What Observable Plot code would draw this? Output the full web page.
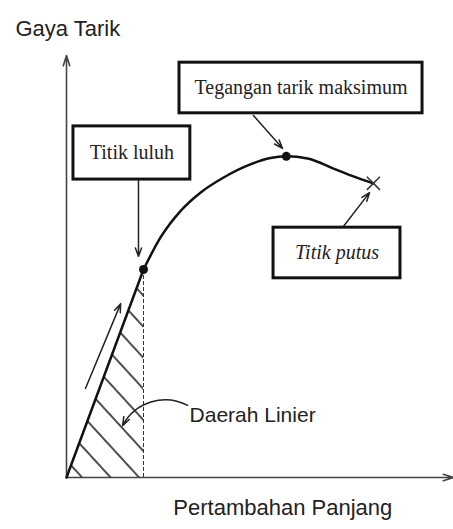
<!DOCTYPE html>
<html><head><meta charset="utf-8">
<script src="https://cdn.jsdelivr.net/npm/d3@7"></script>
<script src="https://cdn.jsdelivr.net/npm/@observablehq/plot@0.6"></script>
<style>body{margin:0;background:#fff} svg{display:block}</style>
</head><body><div id="chart"></div>
<script>
// Stress–strain style curve, arbitrary units (elongation x, force y), 0–100
const linearPart = [{x: 0, y: 0}, {x: 19.9, y: 49.3}];
const plasticPart = [
  {x: 19.9, y: 49.3}, {x: 24.3, y: 56.9}, {x: 29.5, y: 63.2}, {x: 34.6, y: 67.5},
  {x: 40.6, y: 71.1}, {x: 47.5, y: 74.2}, {x: 52.7, y: 75.7}, {x: 56.8, y: 76.1},
  {x: 62.3, y: 75.6}, {x: 69.0, y: 73.2}, {x: 73.4, y: 71.6}, {x: 79.3, y: 69.7}
];
const keyPoints = [
  {name: "yield", x: 19.9, y: 49.3},
  {name: "max", x: 56.8, y: 76.1}
];
const breakPoint = [{name: "break", x: 79.3, y: 69.7}];

// Annotation boxes (labels) in the same units
const boxLabels = ["Tegangan tarik maksimum", "Titik luluh", "Titik putus"];
const boxX1 = [29.2, 1.8, 53.5];
const boxX2 = [92.0, 32.0, 86.3];
const boxY1 = [86.3, 70.6, 47.2];
const boxY2 = [98.3, 83.2, 59.2];
const boxItalic = [false, false, true];

// Pointer arrows
const pointerArrows = [
  {x1: 48.3, y1: 85.8, x2: 55.8, y2: 78.0},   // Tegangan -> max
  {x1: 18.6, y1: 70.6, x2: 18.6, y2: 52.4},   // Titik luluh -> yield
  {x1: 71.3, y1: 59.2, x2: 78.3, y2: 67.5},   // Titik putus -> break
  {x1: 4.9, y1: 21.1, x2: 14.0, y2: 41.2}     // loading direction
];
const curvedArrow = [{x1: 31.3, y1: 17.1, x2: 14.5, y2: 12.3}];

// Axis lines
const axisArrows = [
  {x1: 0, y1: 0, x2: 0, y2: 100},
  {x1: 0, y1: 0, x2: 100, y2: 0}
];
const yTitle = [{text: "Gaya Tarik", x: -13.2, y: 106.4}];
const xTitle = [{text: "Pertambahan Panjang", x: 55.9, y: -7.3}];
const regionLabel = [{text: "Daerah Linier", x: 31.8, y: 14.7}];

const boxes = boxLabels.map((label, i) => ({
  label, x1: boxX1[i], x2: boxX2[i], y1: boxY1[i], y2: boxY2[i],
  cx: (boxX1[i] + boxX2[i]) / 2, cy: (boxY1[i] + boxY2[i]) / 2, italic: boxItalic[i]
}));

const svg = Plot.plot({
  width: 453, height: 529,
  marginLeft: 66, marginRight: 0, marginTop: 55, marginBottom: 52,
  x: {domain: [0, 100], axis: null},
  y: {domain: [0, 100], axis: null},
  style: {fontFamily: "'Liberation Sans', Arial, sans-serif", background: "white", color: "#111"},
  marks: [
    Plot.areaY(linearPart, {x: "x", y: "y", fill: "url(#hatch)"}),
    Plot.ruleX([keyPoints[0]], {x: "x", y1: 0, y2: "y", stroke: "#333", strokeWidth: 1, strokeDasharray: "4,2"}),
    Plot.arrow(axisArrows, {x1: "x1", y1: "y1", x2: "x2", y2: "y2", stroke: "#444", strokeWidth: 1.6, headLength: 10, headAngle: 35}),
    Plot.line(linearPart, {x: "x", y: "y", stroke: "#111", strokeWidth: 2.5}),
    Plot.line(plasticPart, {x: "x", y: "y", stroke: "#111", strokeWidth: 2.5, curve: "monotone-x"}),
    Plot.arrow(pointerArrows, {x1: "x1", y1: "y1", x2: "x2", y2: "y2", stroke: "#222", strokeWidth: 1.5, headLength: 9, headAngle: 40}),
    Plot.arrow(curvedArrow, {x1: "x1", y1: "y1", x2: "x2", y2: "y2", stroke: "#222", strokeWidth: 1.5, headLength: 9, headAngle: 40, bend: -45}),
    Plot.dot(keyPoints, {x: "x", y: "y", r: 4.5, fill: "#111"}),
    Plot.dot(breakPoint, {x: "x", y: "y", symbol: "times", r: 6, stroke: "#333", strokeWidth: 1.5}),
    Plot.rect(boxes, {x1: "x1", x2: "x2", y1: "y1", y2: "y2", fill: "white", stroke: "#111", strokeWidth: 3}),
    Plot.text(boxes.filter(d => !d.italic), {x: "cx", y: "cy", text: "label", fontSize: 20, fontFamily: "'Liberation Serif', 'Times New Roman', serif", fill: "#222"}),
    Plot.text(boxes.filter(d => d.italic), {x: "cx", y: "cy", text: "label", fontSize: 20, fontStyle: "italic", fontFamily: "'Liberation Serif', 'Times New Roman', serif", fill: "#222"}),
    Plot.text(yTitle, {x: "x", y: "y", text: "text", textAnchor: "start", fontSize: 22, fill: "#222"}),
    Plot.text(xTitle, {x: "x", y: "y", text: "text", fontSize: 22, fill: "#222"}),
    Plot.text(regionLabel, {x: "x", y: "y", text: "text", textAnchor: "start", fontSize: 21, fill: "#222"})
  ]
});

const defs = d3.select(svg).insert("defs", ":first-child");
const pat = defs.append("pattern")
  .attr("id", "hatch")
  .attr("patternUnits", "userSpaceOnUse")
  .attr("width", 21).attr("height", 21)
  .attr("patternTransform", "rotate(47.5)");
pat.append("line")
  .attr("x1", 0).attr("y1", 10).attr("x2", 21).attr("y2", 10)
  .attr("stroke", "#222").attr("stroke-width", 1.6);

document.getElementById("chart").appendChild(svg);
</script>
</body></html>
